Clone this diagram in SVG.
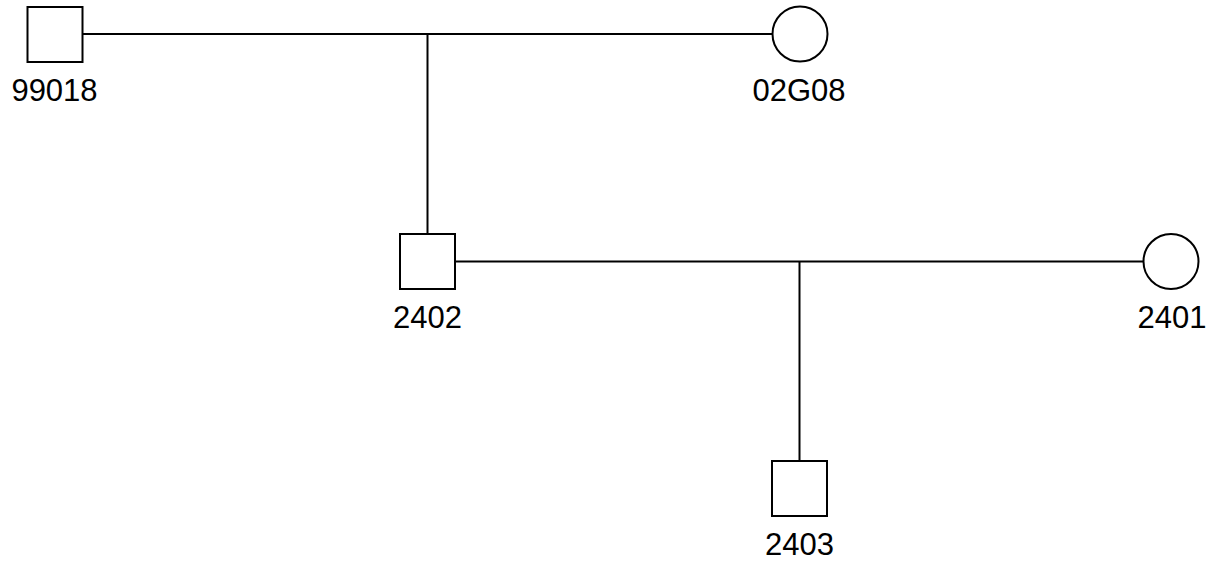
<svg xmlns="http://www.w3.org/2000/svg" width="1212" height="567" viewBox="0 0 1212 567">
<style>
.n{fill:#fff;stroke:#000;stroke-width:2}
.c{stroke:#000;stroke-width:2;fill:none}
.t{font-family:"Liberation Sans",Arial,sans-serif;font-size:31px;fill:#000;text-anchor:middle}
</style>
<rect width="1212" height="567" fill="#fff"/>
<g id="connectors">
<line class="c" x1="82.5" y1="34" x2="772.5" y2="34"/>
<line class="c" x1="427.5" y1="34" x2="427.5" y2="234"/>
<line class="c" x1="455" y1="261.5" x2="1143.5" y2="261.5"/>
<line class="c" x1="799.5" y1="261.5" x2="799.5" y2="461"/>
</g>
<g id="n99018">
<rect class="n" x="27.5" y="7" width="55" height="55"/>
<text class="t" x="54.5" y="100.5">99018</text>
</g>
<g id="n02G08">
<circle class="n" cx="800" cy="34" r="27.5"/>
<text class="t" x="799" y="100.5">02G08</text>
</g>
<g id="n2402">
<rect class="n" x="400" y="234" width="55" height="55"/>
<text class="t" x="427.5" y="327.5">2402</text>
</g>
<g id="n2401">
<circle class="n" cx="1171" cy="261.5" r="27.5"/>
<text class="t" x="1172" y="327.5">2401</text>
</g>
<g id="n2403">
<rect class="n" x="772" y="461" width="55" height="55"/>
<text class="t" x="799.5" y="554.5">2403</text>
</g>
</svg>
